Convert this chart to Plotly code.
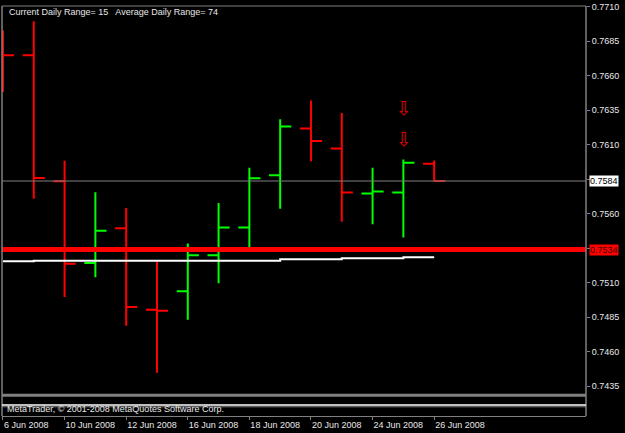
import plotly.graph_objects as go

# ---------------- data ----------------
dates = ["6 Jun 2008", "9 Jun 2008", "10 Jun 2008", "11 Jun 2008", "12 Jun 2008",
         "13 Jun 2008", "16 Jun 2008", "17 Jun 2008", "18 Jun 2008", "19 Jun 2008",
         "20 Jun 2008", "23 Jun 2008", "24 Jun 2008", "25 Jun 2008", "26 Jun 2008"]
opens = [0.7690, 0.76748, 0.75835, 0.75242, 0.75495, 0.74905, 0.75039, 0.75299,
         0.75500, 0.75878, 0.76218, 0.76072, 0.75747, 0.75754, 0.75962]
highs = [0.76928, 0.76995, 0.75984, 0.75756, 0.75641, 0.75254, 0.75385, 0.75677,
         0.75933, 0.76285, 0.76421, 0.76330, 0.75933, 0.75993, 0.75986]
lows = [0.76481, 0.75708, 0.74996, 0.75139, 0.74788, 0.74448, 0.74831, 0.75096,
        0.75331, 0.75636, 0.75981, 0.75541, 0.75524, 0.75428, 0.75833]
closes = [0.76748, 0.75859, 0.75237, 0.75476, 0.74924, 0.74897, 0.75299, 0.75500,
          0.75857, 0.76232, 0.76127, 0.75754, 0.75761, 0.75969, 0.75837]
ma_line = [0.75256, 0.75260, 0.75260, 0.75260, 0.75260, 0.75260, 0.75260, 0.75260,
           0.75260, 0.75270, 0.75270, 0.75278, 0.75278, 0.75285, 0.75285]
arrow_x = [13, 13]
arrow_y = [0.76347, 0.76127]
level_line = 0.7534
avg_daily_range = 74
tick_idx = [0, 2, 4, 6, 8, 10, 12, 14]
tick_text = [dates[i] for i in tick_idx]
y_ticks = [0.7435, 0.7460, 0.7485, 0.7510, 0.7535, 0.7560, 0.7585, 0.7610,
           0.7635, 0.7660, 0.7685, 0.7710]
y_tick_text = ["0.7435", "0.7460", "0.7485", "0.7510", "", "0.7560", "",
               "0.7610", "0.7635", "0.7660", "0.7685", "0.7710"]

x_idx = list(range(len(dates)))
current = closes[-1]
cur_range = round((highs[-1] - lows[-1]) * 10000)

FONT = "Liberation Sans, Arial, sans-serif"
GREY = "#808080"

fig = go.Figure()

fig.add_trace(go.Ohlc(
    x=x_idx, open=opens, high=highs, low=lows, close=closes,
    increasing=dict(line=dict(color="#00ff00", width=2)),
    decreasing=dict(line=dict(color="#ff0000", width=2)),
    tickwidth=0.36, hoverinfo="skip", showlegend=False))

fig.add_trace(go.Scatter(
    x=x_idx, y=ma_line, mode="lines", line=dict(color="#ffffff", width=2, shape="hv"),
    hoverinfo="skip", showlegend=False))

fig.add_trace(go.Scatter(
    x=arrow_x, y=arrow_y, mode="text", text=["⇩", "⇩"],
    textfont=dict(family="DejaVu Sans", size=19, color="#e00000"),
    textposition="middle center", hoverinfo="skip", showlegend=False))

# layout geometry
main_bottom = 21 / 414

shapes = [
    dict(type="line", xref="paper", x0=0, x1=1, yref="y", y0=current, y1=current,
         line=dict(color=GREY, width=1)),
    dict(type="line", xref="paper", x0=0, x1=1, yref="y", y0=level_line, y1=level_line,
         line=dict(color="#ff0000", width=5)),
    dict(type="line", xref="paper", yref="paper", x0=0, x1=1, y0=1, y1=1,
         line=dict(color=GREY, width=1)),
    dict(type="line", xref="paper", yref="paper", x0=0, x1=0, y0=0, y1=1,
         line=dict(color=GREY, width=1.5)),
    dict(type="line", xref="paper", yref="paper", x0=1, x1=1, y0=0, y1=1,
         line=dict(color=GREY, width=1.5)),
    dict(type="line", xref="paper", yref="paper", x0=0, x1=1, y0=main_bottom, y1=main_bottom,
         line=dict(color=GREY, width=3)),
    dict(type="line", xref="paper", yref="paper", x0=0, x1=1, y0=11 / 414, y1=11 / 414,
         line=dict(color="#ffffff", width=1.5)),
    dict(type="line", xref="paper", yref="paper", x0=0, x1=1, y0=9.3 / 414, y1=9.3 / 414,
         line=dict(color=GREY, width=1)),
]

annotations = [
    dict(text=f"Current Daily Range= {cur_range}   Average Daily Range= {avg_daily_range}",
         xref="paper", yref="paper", x=5 / 584, y=(416 - 8.5) / 414, xanchor="left",
         yanchor="middle", showarrow=False, font=dict(family=FONT, size=9, color="#e8e8e8")),
    dict(text="MetaTrader, © 2001-2008 MetaQuotes Software Corp.",
         xref="paper", yref="paper", x=3 / 584, y=7 / 414, xanchor="left",
         yanchor="middle", showarrow=False, font=dict(family=FONT, size=9, color="#e8e8e8")),
    dict(text=f"{current:.4f}", xref="paper", x=1, xshift=3, yref="y", y=current,
         xanchor="left", yanchor="middle", showarrow=False, bgcolor="#ffffff",
         borderpad=0, font=dict(family=FONT, size=9, color="#000000")),
    dict(text=f"{level_line:.4f}", xref="paper", x=1, xshift=3, yref="y", y=level_line,
         xanchor="left", yanchor="middle", showarrow=False, bgcolor="#ff0000",
         borderpad=0, font=dict(family=FONT, size=9, color="#400000")),
]

fig.update_layout(
    width=625, height=433,
    margin=dict(l=2, r=39, t=2, b=17, pad=0),
    paper_bgcolor="#000000", plot_bgcolor="#000000",
    shapes=shapes, annotations=annotations,
    xaxis=dict(range=[-0.032, 18.93], showgrid=False, zeroline=False,
               rangeslider=dict(visible=False),
               tickmode="array", tickvals=tick_idx, ticktext=tick_text,
               ticks="outside", ticklen=3, tickcolor=GREY, tickwidth=1,
               ticklabelposition="outside right",
               tickfont=dict(family=FONT, size=9, color="#e8e8e8"),
               showline=True, linecolor=GREY, linewidth=1,
               anchor="free", position=0),
    yaxis=dict(domain=[main_bottom, 1], range=[0.74285, 0.77105], side="right",
               showgrid=False, zeroline=False,
               tickmode="array", tickvals=y_ticks, ticktext=y_tick_text,
               ticks="outside", ticklen=3, tickcolor=GREY, tickwidth=1,
               ticklabeloverflow="allow",
               tickfont=dict(family=FONT, size=9, color="#e8e8e8"),
               showline=False),
)

fig.write_html("out.html")
